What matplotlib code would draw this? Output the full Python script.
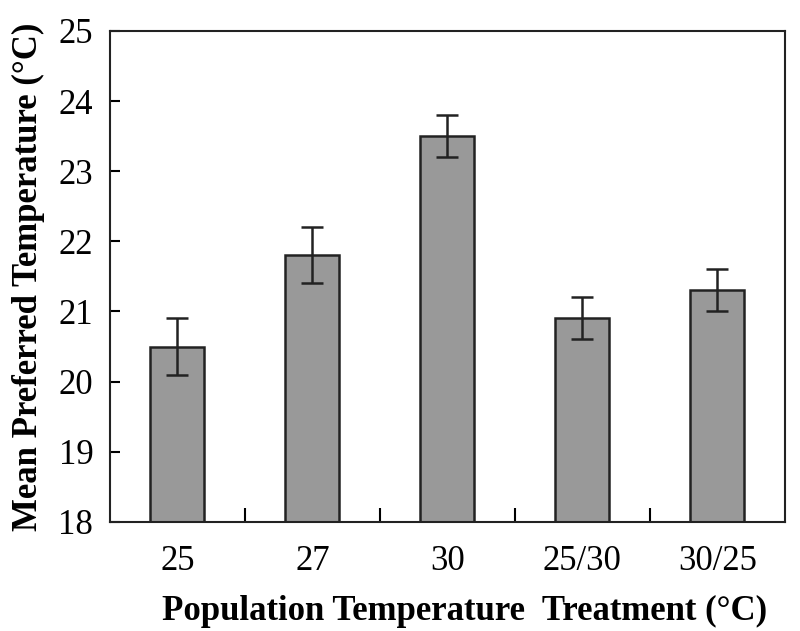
import matplotlib.pyplot as plt
import numpy as np

categories = ['25', '27', '30', '25/30', '30/25']
means = [20.5, 21.8, 23.5, 20.9, 21.3]
errors = [0.4, 0.4, 0.3, 0.3, 0.3]

plt.rcParams['font.family'] = 'Liberation Serif'

fig, ax = plt.subplots(figsize=(8, 6.31), dpi=100)
fig.subplots_adjust(left=0.1375, right=0.981, top=0.951, bottom=0.173)

x = np.arange(len(categories))
ax.bar(x, means, width=0.4, bottom=0, color='#999999', edgecolor='#222222',
       linewidth=1.8, yerr=errors, capsize=8,
       error_kw=dict(ecolor='#222222', elinewidth=1.8, capthick=1.8), zorder=2)

ax.set_ylim(18, 25)
ax.set_xlim(-0.5, 4.5)
ax.set_yticks(range(18, 26))
ax.tick_params(axis='y', direction='in', length=7, width=1.5, labelsize=25, pad=12)

# category labels centred under the bars, tick marks between categories
ax.set_xticks(x)
ax.set_xticklabels(categories)
ax.tick_params(axis='x', which='major', length=0, labelsize=25, pad=17)
ax.set_xticks(x[:-1] + 0.5, minor=True)
ax.tick_params(axis='x', which='minor', direction='in', length=10, width=1.5)

for s in ax.spines.values():
    s.set_linewidth(1.5)
    s.set_color('#222222')

ax.set_xlabel('Population Temperature  Treatment (°C)', fontsize=25,
              fontweight='bold', labelpad=12)
ax.xaxis.label.set_x(0.526)
ax.set_ylabel('Mean Preferred Temperature (°C)', fontsize=25,
              fontweight='bold', labelpad=10)

fig.savefig('out.png', dpi=100)
